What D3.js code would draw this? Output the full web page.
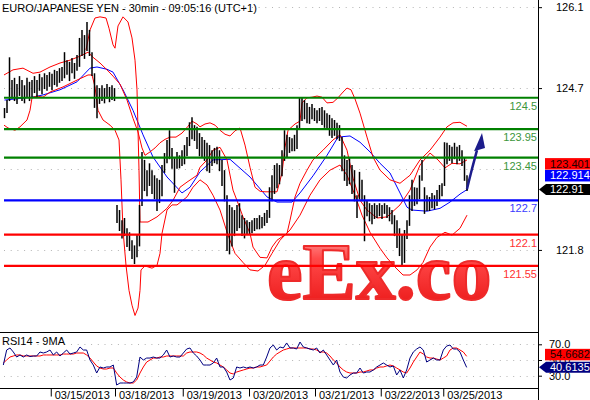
<!DOCTYPE html>
<html>
<head>
<meta charset="utf-8">
<script src="https://cdn.jsdelivr.net/npm/d3@7"></script>
<style>
body { margin: 0; background: #fff; }
svg text { font-family: "Liberation Sans", Arial, sans-serif; font-size: 11px; }
</style>
</head>
<body>
<svg id="chart"></svg>
<script>
var chartWidth = 590;
var chartHeight = 400;
var plotLeft = 4;
var axisX = 538;
var mainBottom = 332;
var rsiBottom = 388;

// 30 min bars, one slot per bar column
var barHigh = [
124.32,124.46,125.21,124.81,124.85,124.74,124.88,124.81,124.72,124.85,
124.78,124.81,124.88,124.81,124.92,124.86,124.93,124.90,124.95,124.92,
124.99,124.97,125.02,125.04,125.30,125.16,125.13,125.20,125.11,125.25,
125.55,125.69,125.60,125.83,125.69,125.30,124.93,124.72,124.67,124.72,
124.67,124.74,124.69,124.72,124.67,122.62,122.53,122.35,122.39,122.21,
122.14,122.00,121.91,122.09,122.62,123.55,123.41,123.23,123.35,123.23,
123.14,123.09,123.06,123.32,123.53,123.76,123.93,123.62,123.44,123.55,
123.49,123.58,123.67,123.81,124.07,124.16,124.02,123.99,123.88,123.81,
123.76,123.71,123.67,123.58,123.62,123.64,123.58,123.41,123.23,122.79,
122.62,122.58,122.53,122.62,122.65,122.44,122.39,122.35,122.32,122.35,
122.39,122.39,122.44,122.41,122.48,122.53,122.93,123.14,123.32,123.35,
123.32,123.58,123.93,123.85,123.81,123.79,123.85,124.02,124.50,124.51,
124.46,124.41,124.34,124.39,124.32,124.28,124.32,124.34,124.28,124.23,
124.20,124.14,124.11,124.06,124.02,123.81,123.49,123.41,123.44,123.32,
123.23,122.79,123.20,123.06,122.79,122.70,122.65,122.62,122.65,122.62,
122.65,122.62,122.65,122.62,122.58,122.53,122.44,122.35,122.21,122.09,
122.18,122.35,122.79,123.06,122.93,122.92,123.14,123.41,122.93,122.79,
122.76,122.83,122.79,122.88,122.97,123.00,123.72,123.71,123.67,123.64,
123.71,123.64,123.67,123.58,123.46,123.14];
var barLow = [
124.16,124.25,124.46,124.50,124.46,124.41,124.55,124.46,124.42,124.53,
124.46,124.51,124.60,124.53,124.64,124.58,124.67,124.64,124.71,124.65,
124.74,124.71,124.78,124.81,124.86,124.92,124.81,124.95,124.85,124.99,
125.06,125.25,125.20,125.34,125.25,124.90,124.34,124.16,124.41,124.46,
124.42,124.50,124.44,124.48,124.46,122.32,122.18,122.05,122.09,121.90,
121.83,121.69,121.60,121.72,121.91,122.62,122.88,122.79,122.97,122.83,
122.74,122.53,122.67,122.79,123.20,123.37,123.44,123.27,122.85,123.27,
123.28,123.32,123.35,123.49,123.67,123.79,123.76,123.62,123.49,123.46,
123.41,123.23,123.20,123.32,123.37,123.35,123.23,122.97,122.70,121.83,
121.77,121.91,122.09,122.18,122.23,122.09,122.05,122.12,122.12,122.14,
122.18,122.21,122.21,122.23,122.27,122.32,122.41,122.70,122.83,122.93,
123.00,123.14,123.41,123.46,123.55,123.58,123.58,123.62,123.97,124.11,
124.14,124.07,124.06,124.14,124.11,124.07,124.11,124.04,123.99,123.97,
123.85,123.81,123.85,123.79,123.76,123.23,123.06,122.97,123.00,122.83,
122.70,122.41,122.74,122.70,122.00,122.44,122.35,122.30,122.39,122.41,
122.44,122.39,122.48,122.41,122.35,122.30,122.09,121.88,121.74,121.56,
121.62,122.04,122.27,122.53,122.62,122.65,122.74,123.06,122.48,122.53,
122.53,122.58,122.56,122.62,122.70,122.79,122.97,123.35,123.41,123.37,
123.44,123.35,123.41,123.32,123.06,122.88];

// blue moving average, [slot, price]
var maPoints = [
[0,124.46],[11,124.51],[15.4,124.55],[22.2,124.64],[29,124.78],[34.2,125.02],
[37,125.04],[41,125.00],[43.4,124.95],[47.4,124.64],[51.4,124.28],[55.4,123.85],
[59.4,123.46],[65,123.11],[71,122.83],[74.2,122.93],[78.2,123.20],[83.4,123.41],
[90.2,123.42],[98.2,123.11],[105,122.76],[109,122.67],[115,122.67],[118.2,122.83],
[123.4,123.13],[129,123.49],[133.4,123.81],[138.2,123.83],[142.2,123.72],[146.2,123.55],
[150.2,123.35],[154.2,123.18],[158.2,122.83],[161,122.58],[163,122.53],[169,122.51],
[174.2,122.56],[178.2,122.67],[182.2,122.81],[185.4,122.90]];

// red band lines, [slot, price]
var bandUpper = [
[-0.2,124.90],[3.4,124.99],[7.4,125.02],[11.4,124.93],[14.2,124.95],[18.2,125.04],
[22.2,125.11],[26.2,125.16],[30.2,125.23],[33.4,125.30],[35.4,125.21],[38.2,125.11],
[41,124.99],[43.4,124.88],[46.2,124.74],[49,124.46],[51.4,124.14],[53.4,123.90],
[55,123.62],[56.2,123.49],[58.2,123.55],[60.2,123.62],[62.2,123.71],[64.2,123.77],
[66.2,123.81],[68.6,123.81],[71,123.88],[73.4,124.00],[75,124.09],[77,124.04],
[78.2,123.99],[80.2,124.04],[82.2,124.06],[84.2,124.02],[86.2,123.93],[88.2,123.86],
[90.2,123.83],[92.2,123.92],[94.2,123.97],[96.2,123.67],[98.2,123.28],[100.2,122.93],
[102.2,122.86],[104.2,122.85],[109,122.85],[111,123.18],[112.2,123.63],[113.4,123.93],
[116.2,124.04],[118.2,124.09],[119,124.41],[121,124.50],[123,124.51],[125,124.53],
[127,124.51],[129,124.41],[131.4,124.42],[133.4,124.50],[135.4,124.60],[137,124.67],
[138.6,124.64],[140.2,124.48],[142.2,124.23],[145,123.81],[147.4,123.46],[150.2,123.23],
[154.2,123.06],[158.2,123.00],[162.2,123.14],[166.2,123.41],[170.2,123.58],[174.2,123.81],
[177,123.99],[179.4,124.06],[182.2,124.07],[185,124.00]];
var bandMiddle = [
[32.6,125.34],[34.2,125.69],[36.2,125.90],[38.2,125.92],[40.6,125.90],[41.8,125.72],
[43.4,125.43],[44.2,125.37],[45.4,125.76],[47.4,125.92],[49.4,125.83],[51,125.55],
[52.2,125.16],[53,124.64],[53.4,123.93],[53.8,123.23],[54.2,122.32],[57.4,122.32],
[61,122.41],[65,122.56],[67.4,122.70],[70.2,122.93],[73,123.02],[77,123.14],
[78.2,123.28],[81,123.41],[83.4,123.58],[86.2,123.63],[89,123.41],[91.4,122.88],
[93.4,122.65],[95.4,122.41],[98.2,122.12],[99.4,121.88],[102.2,121.70],[105,121.69],
[107,121.88],[109,122.00],[113,122.12],[114.2,122.35],[116.2,122.76],[118.2,123.00],
[121,123.23],[123.4,123.41],[127.4,123.58],[131.4,123.76],[134.2,123.85],[137,123.58],
[139.4,123.09],[142.2,122.70],[145,122.53],[149,122.39],[153,122.41],[158.2,122.62],
[162.2,122.88],[166.2,123.32],[170.2,123.53],[173.4,123.41],[176.2,123.27],[179,123.35],
[182.2,123.34],[185,123.41]];
var bandLower = [
[-0.2,124.02],[1.4,123.97],[4.2,123.93],[6.2,123.99],[9,124.11],[10.2,124.28],
[11,124.50],[13,124.53],[15.4,124.51],[18.2,124.60],[23.4,124.69],[29,124.81],
[33.4,124.90],[35,124.90],[36.2,124.69],[37.4,124.28],[39.4,124.11],[42.2,124.02],
[44.2,123.93],[45.8,123.76],[46.6,123.06],[47.4,122.18],[48.6,121.56],[49.8,121.12],
[51,120.86],[52.2,120.68],[53.4,120.81],[54.2,121.12],[54.6,121.48],[56.2,121.55],
[59,121.51],[61,121.56],[62.2,121.77],[63,122.12],[65,122.53],[67,122.62],
[69,122.62],[73,122.76],[75.4,122.93],[78.2,123.06],[81,122.97],[83.4,122.79],
[86.2,122.53],[89.4,122.09],[92.2,121.77],[95.4,121.61],[98.2,121.48],[101.4,121.46],
[104.2,121.56],[107,121.77],[110.2,122.00],[114.2,122.18],[118.2,122.44],[122.2,122.79],
[126.2,123.06],[130.2,123.23],[134.2,123.32],[137,123.14],[140.2,122.79],[143,122.44],
[146.2,122.14],[150.2,121.86],[153,121.69],[156.2,121.53],[159.4,121.39],[162.2,121.39],
[165,121.48],[167.4,121.61],[170.2,121.88],[173,122.05],[176.2,122.14],[179,122.09],
[182.2,122.21],[185,122.44]];

var rsiValues = [
43.6,62.7,65.3,60.2,53.8,56.4,53.8,56.4,54.4,55.1,
55.1,60.2,58.9,60.2,62.7,56.4,60.2,55.1,58.9,62.7,
57.6,58.9,60.2,66.6,62.7,62.7,50.0,43.6,33.4,41.1,
39.8,41.1,41.1,43.6,18.1,20.7,20.7,20.7,20.7,22.0,
28.3,53.8,50.0,52.5,52.5,53.8,52.5,52.5,56.4,62.7,
53.8,55.1,53.8,53.8,58.9,64.0,65.3,58.9,55.1,50.0,
43.6,43.6,43.6,46.2,52.5,41.1,41.1,34.7,24.5,27.1,
41.1,39.8,41.1,39.8,41.1,39.8,41.1,43.6,43.6,53.8,
65.3,69.1,62.7,66.6,65.3,71.7,65.3,65.3,64.0,72.9,
66.6,65.3,64.0,62.7,65.3,58.9,62.7,56.4,50.0,43.6,
50.0,34.7,28.3,27.1,30.9,33.4,33.4,39.8,33.4,34.7,
34.7,37.3,41.1,43.6,46.2,43.6,41.1,42.4,30.9,37.3,
27.1,37.3,52.5,60.2,64.0,66.6,62.7,47.4,50.0,52.5,
50.0,50.0,62.7,67.8,69.1,64.0,64.0,60.2,50.0,40.6];
var rsiMA = [
46.2,50.0,53.8,55.1,56.4,56.4,55.1,55.1,55.1,55.1,
55.1,55.1,56.4,56.4,56.4,56.4,56.4,56.4,57.6,57.6,
57.6,57.6,58.9,58.9,58.9,56.4,52.5,47.4,42.4,39.8,
38.5,38.5,39.8,39.8,33.4,28.3,24.5,22.0,20.7,20.7,
24.5,33.4,41.1,47.4,50.0,52.5,52.5,53.8,53.8,55.1,
55.1,55.1,55.1,55.1,55.1,58.9,60.2,60.2,60.2,58.9,
56.4,52.5,50.0,47.4,46.2,43.6,41.1,37.3,33.4,32.2,
34.7,36.0,37.3,38.5,39.8,39.8,41.1,41.1,42.4,43.6,
48.7,53.8,57.6,60.2,62.7,64.0,65.3,65.3,65.3,65.3,
65.3,65.3,64.0,64.0,62.7,60.2,60.2,58.9,55.1,50.0,
46.2,41.1,37.3,34.7,33.4,33.4,33.4,34.7,34.7,36.0,
37.3,37.3,39.8,41.1,41.1,42.4,43.6,42.4,39.8,37.3,
34.7,33.4,39.8,47.4,53.8,60.2,57.6,53.8,52.5,52.5,
51.2,50.0,52.5,55.1,62.7,65.3,65.3,62.7,60.2,54.7];
var rsiStart = -0.47;
var rsiStep = 4 / 3;

var levels = [124.5, 123.95, 123.45, 122.7, 122.1, 121.55];
var levelLabels = ["124.5", "123.95", "123.45", "122.7", "122.1", "121.55"];
var levelKind = ["res", "res", "res", "pivot", "sup", "sup"];

var gridTicks = [126.09, 124.67, 123.25, 121.83];
var priceTicks = [126.09, 124.67, 121.83];
var rsiTicks = [70, 50, 30];
var dateSlots = [18.5, 44.2, 71.3, 97.8, 124.2, 150.5, 175.5];
var dateLabels = ["03/15/2013", "03/18/2013", "03/19/2013", "03/20/2013",
                  "03/21/2013", "03/22/2013", "03/25/2013"];

var lastClose = 122.91;
var lastMA = 122.914;
var lastBand = 123.401;
var lastRsi = 40.6135;
var lastRsiMA = 54.6682;
var arrowPath = [[185, 122.90], [186.6, 123.19], [189, 123.58]];
var arrowHead = [[187.8, 123.56], [191, 123.88], [192.2, 123.62]];

var kindColor = { res: "#008000", pivot: "#0000ff", sup: "#ff0000" };
var kindText = { res: "#3c963c", pivot: "#3a3aff", sup: "#ff3030" };

var x = d3.scaleLinear().domain([0, 185]).range([4.5, 467]);
var y = d3.scaleLinear().domain([120.39, 126.2156]).range([mainBottom, 0]);
var yr = d3.scaleLinear().domain([30, 70]).range([375.7, 344.3]);

var svg = d3.select("#chart")
	.attr("width", chartWidth)
	.attr("height", chartHeight);

var priceLine = d3.line()
	.x(function(d) { return x(d[0]); })
	.y(function(d) { return y(d[1]); });

function drawFrame() {
	svg.append("rect")
	.attr("width", chartWidth).attr("height", chartHeight)
	.attr("fill", "#fff");

	var grid = svg.append("g").attr("class", "grid")
	.attr("stroke", "#b4b4b4")
	.attr("stroke-dasharray", "1,5.7");
	grid.selectAll("line.p").data(gridTicks).enter()
	.append("line").attr("class", "p")
	.attr("x1", plotLeft).attr("x2", axisX)
	.attr("y1", function(d) { return Math.round(y(d)) + 0.5; })
	.attr("y2", function(d) { return Math.round(y(d)) + 0.5; });
	grid.selectAll("line.r").data(rsiTicks).enter()
	.append("line").attr("class", "r")
	.attr("x1", plotLeft).attr("x2", axisX)
	.attr("y1", function(d) { return Math.round(yr(d)) + 0.5; })
	.attr("y2", function(d) { return Math.round(yr(d)) + 0.5; });
}

function drawWatermark() {
	var defs = svg.append("defs");
	var g = defs.append("linearGradient").attr("id", "wm")
	.attr("x1", 0).attr("y1", 0).attr("x2", 0).attr("y2", 1);
	g.append("stop").attr("offset", "0%").attr("stop-color", "#ffb4b4");
	g.append("stop").attr("offset", "35%").attr("stop-color", "#ff4848");
	g.append("stop").attr("offset", "100%").attr("stop-color", "#e81010");

	svg.append("text")
	.attr("x", 267).attr("y", 299)
	.style("font-family", "'Liberation Serif', serif")
	.style("font-weight", "bold")
	.style("font-size", "80px")
	.attr("fill", "url(#wm)")
	.attr("stroke", "#ee2a2a")
	.attr("stroke-width", 2)
	.attr("stroke-linejoin", "round")
	.text("eEx.co");
}

function drawBars() {
	var idx = d3.range(barHigh.length);
	svg.append("g").attr("class", "bars")
	.attr("stroke", "#000").attr("stroke-width", 1.5)
	.selectAll("line").data(idx).enter()
	.append("line")
	.attr("x1", function(i) { return x(i); })
	.attr("x2", function(i) { return x(i); })
	.attr("y1", function(i) { return y(barHigh[i]); })
	.attr("y2", function(i) { return y(barLow[i]) + 1; });
}

function drawMA() {
	svg.append("path").datum(maPoints)
	.attr("fill", "none").attr("stroke", "#0000ff").attr("stroke-width", 1)
	.attr("d", priceLine);
}

function drawBands() {
	svg.append("g").attr("class", "bands")
	.selectAll("path").data([bandUpper, bandMiddle, bandLower]).enter()
	.append("path")
	.attr("fill", "none").attr("stroke", "#ff0000").attr("stroke-width", 1)
	.attr("d", priceLine);
}

function drawLevels() {
	var g = svg.append("g").attr("class", "levels");
	g.selectAll("line").data(levels).enter()
	.append("line")
	.attr("x1", plotLeft).attr("x2", axisX)
	.attr("y1", function(d) { return y(d); })
	.attr("y2", function(d) { return y(d); })
	.attr("stroke", function(d, i) { return kindColor[levelKind[i]]; })
	.attr("stroke-width", 2.2);
	g.selectAll("text").data(levels).enter()
	.append("text")
	.attr("x", axisX - 1)
	.attr("y", function(d) { return y(d) + 12; })
	.attr("text-anchor", "end")
	.attr("fill", function(d, i) { return kindText[levelKind[i]]; })
	.text(function(d, i) { return levelLabels[i]; });
}

function drawArrow() {
	svg.append("path").datum(arrowPath)
	.attr("fill", "none").attr("stroke", "#1c1c8c").attr("stroke-width", 2.5)
	.attr("d", priceLine.curve(d3.curveBasis));
	priceLine.curve(d3.curveLinear);
	svg.append("path").datum(arrowHead)
	.attr("fill", "#1c1c8c")
	.attr("d", priceLine);
}

function drawRsi() {
	var line = function(arr) {
		return d3.line()
		.x(function(d, j) { return x(rsiStart + j * rsiStep); })
		.y(function(d) { return yr(d); })(arr);
	};
	svg.append("path")
	.attr("fill", "none").attr("stroke", "#ff0000").attr("stroke-width", 1)
	.attr("d", line(rsiMA));
	svg.append("path")
	.attr("fill", "none").attr("stroke", "#000080").attr("stroke-width", 1)
	.attr("d", line(rsiValues));
}

function drawAxes() {
	svg.append("line")
	.attr("x1", 0).attr("x2", axisX + 0.5)
	.attr("y1", mainBottom + 0.5).attr("y2", mainBottom + 0.5)
	.attr("stroke", "#000");
	svg.append("line")
	.attr("x1", 0).attr("x2", axisX + 0.5)
	.attr("y1", rsiBottom + 0.5).attr("y2", rsiBottom + 0.5)
	.attr("stroke", "#000");
	svg.append("line")
	.attr("x1", axisX + 0.5).attr("x2", axisX + 0.5)
	.attr("y1", 0).attr("y2", chartHeight)
	.attr("stroke", "#000");

	var pa = svg.append("g")
	.attr("transform", "translate(" + (axisX + 1) + ",0)")
	.call(d3.axisRight(y).tickValues(priceTicks).tickSize(3).tickPadding(14)
		.tickFormat(d3.format(".1f")));
	pa.select(".domain").remove();
	pa.selectAll("text").style("font-size", "11px").attr("fill", "#000");

	var ra = svg.append("g")
	.attr("transform", "translate(" + (axisX + 1) + ",0)")
	.call(d3.axisRight(yr).tickValues(rsiTicks).tickSize(3).tickPadding(7)
		.tickFormat(d3.format(".1f")));
	ra.select(".domain").remove();
	ra.selectAll("text").style("font-size", "11px").attr("fill", "#000");

	var da = svg.append("g")
	.attr("transform", "translate(0," + (rsiBottom + 0.5) + ")")
	.call(d3.axisBottom(x).tickValues(dateSlots).tickSize(8)
		.tickFormat(function(d, i) { return dateLabels[i]; }));
	da.select(".domain").remove();
	da.selectAll("text")
	.attr("text-anchor", "start")
	.attr("x", 3.5).attr("y", 10).attr("dy", 0)
	.style("font-size", "11px").attr("fill", "#000");

	svg.append("text").attr("x", 2).attr("y", 12)
	.text("EURO/JAPANESE YEN - 30min - 09:05:16 (UTC+1)");
	svg.append("text").attr("x", 2).attr("y", 345)
	.text("RSI14 - 9MA");
}

function valueTag(yPos, text, fill, color, arrow) {
	var g = svg.append("g");
	var top = yPos - 5.5, bot = yPos + 5.5;
	if (arrow) {
		g.append("path")
		.attr("d", "M" + (axisX + 1) + "," + yPos + "L546," + top + "H590V" + bot + "H546Z")
		.attr("fill", fill);
	} else {
		g.append("rect").attr("x", 545).attr("y", top)
		.attr("width", 45).attr("height", 11.5).attr("fill", fill);
	}
	g.append("text").attr("x", 550).attr("y", yPos + 4)
	.attr("fill", color).text(text);
}

function drawTags() {
	valueTag(y(lastBand) + 3.2, d3.format(".3f")(lastBand), "#ff0000", "#200000", false);
	valueTag(y(lastMA) - 12.7, d3.format(".3f")(lastMA), "#0000ff", "#fff", false);
	valueTag(y(lastClose) + 1, d3.format(".2f")(lastClose), "#000", "#fff", true);
	valueTag(yr(lastRsiMA) - 2, d3.format(".4f")(lastRsiMA), "#ff0000", "#200000", false);
	valueTag(yr(lastRsi), d3.format(".4f")(lastRsi), "#000080", "#fff", true);
}

drawFrame();
drawWatermark();
drawMA();
drawBands();
drawBars();
drawLevels();
drawArrow();
drawRsi();
drawAxes();
drawTags();
</script>
</body>
</html>
